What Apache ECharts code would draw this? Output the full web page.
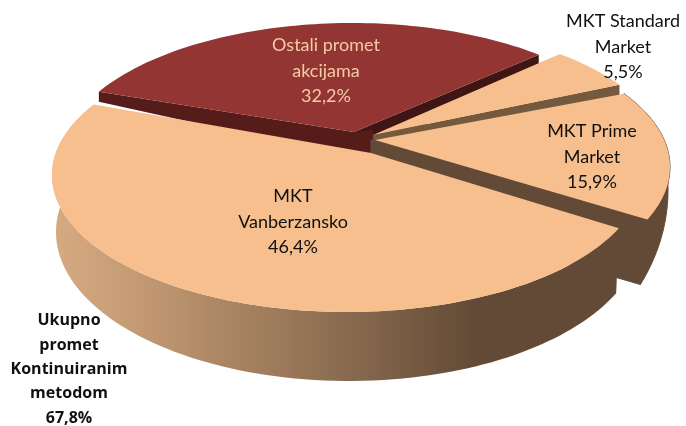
<!DOCTYPE html>
<html>
<head>
<meta charset="utf-8">
<style>html,body{margin:0;padding:0;background:#fff}#c{width:686px;height:426px}</style>
<script src="https://cdn.jsdelivr.net/npm/echarts@6/dist/echarts.min.js"></script>
</head>
<body>
<div id="c"></div>
<script>
const categories = ['MKT\nVanberzansko', 'Ostali promet\nakcijama', 'MKT Standard\nMarket', 'MKT Prime\nMarket'];
const values = [46.4, 32.2, 5.5, 15.9];
const totalLabel = 'Ukupno\npromet\nKontinuiranim\nmetodom';
const totalValue = 67.8;

const START = 35, ASPECT = 2.31;
const BROWN = '#624a36', PEACH = '#f6bf8d', RED = '#933533';
const SIDE = {type: 'linear', x: 52, y: 0, x2: 476, y2: 0, global: true, colorStops: [
  {offset: 0, color: '#d6ab82'}, {offset: 0.18, color: '#c69c75'}, {offset: 0.68, color: '#8b6c50'}, {offset: 1, color: BROWN}
]};
// geometry of each slice, same order as categories
const layout = [
  {rot: 0, z: 40, top: PEACH, text: '#111', lx: 293, ly: 222, apex: [371, 153], ell: [347, 175, 295, 137],
   foot: [365, 217], footEll: [349, 232, 293, 149]},
  {rot: -2, z: 10, top: RED, text: '#f5cba6', lx: 326, ly: 71, apex: [354, 132], ell: [352, 160, 292, 137]},
  {rot: -3, z: 20, top: PEACH, text: '#111', lx: 623, ly: 47, apex: [373, 135], ell: [373, 160, 295, 137]},
  {rot: -1, z: 30, top: PEACH, text: '#111', lx: 592, ly: 157, apex: [375, 140], ell: [374, 167, 296, 137],
   foot: [368, 205], footEll: [372, 190, 296, 224]}
];

function rim(a, e, deg) {
  const t = deg * Math.PI / 180;
  const dx = ASPECT * Math.cos(t), dy = Math.sin(t);
  const ox = (a[0] - e[0]) / e[2], oy = (a[1] - e[1]) / e[3];
  const ux = dx / e[2], uy = dy / e[3];
  const A = ux * ux + uy * uy, B = 2 * (ox * ux + oy * uy), C = ox * ox + oy * oy - 1;
  const s = (-B + Math.sqrt(B * B - 4 * A * C)) / (2 * A);
  return [a[0] + dx * s, a[1] + dy * s];
}
function arc(a, e, from, to) {
  const pts = [];
  const n = Math.max(2, Math.ceil(Math.abs(to - from) / 1.5));
  for (let i = 0; i <= n; i++) pts.push(rim(a, e, from + (to - from) * i / n));
  return pts;
}
const poly = (points, fill, z2, stroke) => ({type: 'polygon', z2, shape: {points},
  style: stroke ? {fill, stroke: fill, lineWidth: 1} : {fill}, silent: true});
const shift = (p, dy) => [p[0], p[1] + dy];

function renderItem(params, api) {
  const i = params.dataIndex, L = layout[i], v = api.value(0);
  let cum = 0;
  for (let k = 0; k < i; k++) cum += values[k];
  const from = START + cum * 3.6 + L.rot, to = from + v * 3.6;
  const kids = [];
  const surface = arc(L.apex, L.ell, from, to);
  const a = surface[0], b = surface[surface.length - 1];

  if (i === 1) {            // dark cut faces of the red slice
    kids.push(poly([L.apex, b, shift(b, 17), shift(L.apex, 26)], '#3f1614', L.z));
    kids.push(poly([L.apex, a, shift(a, 10), shift(L.apex, 26), [373, 156], [373, 130]], '#561c1a', L.z));
  }
  if (i === 2) {            // thin cut face of the standard slice
    kids.push(poly([L.apex, b, shift(b, 12), shift(L.apex, 12)], '#75593f', L.z));
  }
  if (L.foot) {             // outer wall, plus the inner cut face of the prime slice
    const low = arc(L.foot, L.footEll, from, to);
    if (i === 3) {
      const lb = low[low.length - 1];
      kids.push(poly([[371, L.apex[1]], L.apex, b, lb, L.foot, [371, 160]], BROWN, L.z, true));
      kids.push(poly(surface.concat(low.slice().reverse()), BROWN, L.z, true));
    } else {
      kids.push(poly(surface.concat(low.slice().reverse()), SIDE, L.z));
    }
  }
  kids.push(poly([L.apex].concat(surface), L.top, L.z + 1));
  const pct = v.toFixed(1).replace('.', ',') + '%';
  kids.push({type: 'text', z2: 100, silent: true, style: {
    x: L.lx, y: L.ly, text: categories[i] + '\n' + pct, fill: L.text, align: 'center', verticalAlign: 'middle',
    font: '18px Lato, sans-serif', lineHeight: 25.5
  }});
  return {type: 'group', children: kids};
}

const chart = echarts.init(document.getElementById('c'), null, {renderer: 'canvas'});
chart.setOption({
  backgroundColor: '#fff',
  animation: false,
  graphic: [{type: 'text', z: 100, silent: true, style: {
    x: 69, y: 369.5, text: totalLabel + '\n' + totalValue.toFixed(1).replace('.', ',') + '%',
    fill: '#111', align: 'center', verticalAlign: 'middle', font: 'bold 16px "Open Sans", sans-serif', lineHeight: 24.3
  }}],
  series: [{
    type: 'custom',
    coordinateSystem: 'none',
    renderItem,
    silent: true,
    data: values.map(v => [v])
  }]
});
</script>
</body>
</html>
